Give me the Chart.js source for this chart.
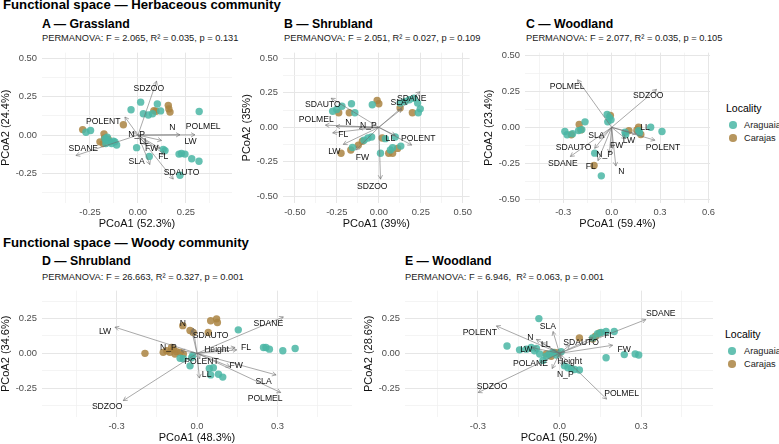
<!DOCTYPE html>
<html>
<head>
<meta charset="utf-8">
<script src="https://cdn.jsdelivr.net/npm/chart.js@4.4.1/dist/chart.umd.min.js"></script>
<style>
  body { margin:0; width:779px; height:444px; background:#fff; position:relative; overflow:hidden;
         font-family:"Liberation Sans", Arial, sans-serif; }
  .t { position:absolute; white-space:pre; color:#000; }
  .main { font-size:13.2px; font-weight:bold; line-height:16px; }
  .sub { font-size:12.3px; font-weight:bold; line-height:14px; }
  .perm { font-size:9.3px; line-height:12px; color:#1a1a1a; }
  .leg { font-size:10.5px; line-height:12px; }
  .key { font-size:9.2px; line-height:12px; color:#1a1a1a; }
  .dot { position:absolute; width:7.5px; height:7.5px; border-radius:50%; }
  canvas { position:absolute; }
</style>
</head>
<body>

<div class="t main" style="left:3px;top:-3px">Functional space — Herbaceous community</div>
<div class="t sub" style="left:42px;top:17px">A — Grassland</div>
<div class="t perm" style="left:42px;top:32px">PERMANOVA: F = 2.065, R² = 0.035, p = 0.131</div>
<div class="t sub" style="left:284px;top:17px">B — Shrubland</div>
<div class="t perm" style="left:284px;top:32px">PERMANOVA: F = 2.051, R² = 0.027, p = 0.109</div>
<div class="t sub" style="left:526px;top:17px">C — Woodland</div>
<div class="t perm" style="left:526px;top:32px">PERMANOVA: F = 2.077, R² = 0.035, p = 0.105</div>

<div class="t main" style="left:3px;top:235px">Functional space — Woody community</div>
<div class="t sub" style="left:42px;top:253.5px">D — Shrubland</div>
<div class="t perm" style="left:42px;top:270.5px">PERMANOVA: F = 26.663, R² = 0.327, p = 0.001</div>
<div class="t sub" style="left:405px;top:253.5px">E — Woodland</div>
<div class="t perm" style="left:405px;top:270.5px">PERMANOVA: F = 6.946,  R² = 0.063, p = 0.001</div>

<div class="t leg" style="left:726px;top:102px">Locality</div>
<div class="dot" style="left:729px;top:121px;background:rgba(74,182,164,0.85)"></div>
<div class="t key" style="left:744px;top:119px">Araguaia</div>
<div class="dot" style="left:729px;top:134px;background:rgba(170,132,66,0.85)"></div>
<div class="t key" style="left:744px;top:132px">Carajas</div>

<div class="t leg" style="left:725px;top:328px">Locality</div>
<div class="dot" style="left:728px;top:347px;background:rgba(74,182,164,0.85)"></div>
<div class="t key" style="left:744px;top:345px">Araguaia</div>
<div class="dot" style="left:728px;top:360px;background:rgba(170,132,66,0.85)"></div>
<div class="t key" style="left:744px;top:358px">Carajas</div>

<script>
// ---- A: herbaceous, grassland ----
const A_araguaia = [[0.014,0.215],[0.101,0.203],[0.319,0.154],[-0.036,0.165],[0.028,0.139],[0.054,0.131],[0.076,0.139],[0.118,0.158],[-0.271,0.019],[-0.247,0.030],[-0.172,-0.023],[-0.163,-0.034],[-0.146,-0.044],[-0.120,-0.044],[-0.111,-0.065],[-0.007,-0.082],[0.059,-0.139],[0.132,-0.093],[0.141,-0.101],[0.214,-0.124],[0.227,-0.120],[0.245,-0.124],[0.280,-0.154],[0.318,-0.171],[0.219,-0.262],[-0.167,-0.055],[-0.128,-0.040],[-0.160,-0.013],[-0.137,-0.055]];
const A_carajas = [[-0.288,0.036],[-0.177,0.008],[-0.076,0.068],[0.083,0.160],[0.094,0.156],[0.158,0.194],[0.161,0.171],[0.167,0.150],[-0.198,-0.044],[-0.181,-0.055],[-0.155,-0.027],[-0.174,-0.019]];
const A_traits = ['SDZOO','POLENT','N_P','N','POLMEL','LW','LL','FW','FL','SLA','SDAUTO','SDANE'];
const A_tips = [[0.097,0.352],[-0.068,0.118],[-0.030,0.020],[0.219,0.002],[0.297,0.002],[0.123,-0.035],[0.045,-0.065],[0.115,-0.087],[0.141,-0.129],[0.062,-0.192],[0.184,-0.287],[-0.323,-0.133]];
const A_labels = [[0.057,0.304],[-0.181,0.086],[-0.007,0.000],[0.179,0.049],[0.340,0.057],[0.274,-0.044],[0.031,-0.044],[0.071,-0.087],[0.132,-0.139],[-0.007,-0.171],[0.227,-0.245],[-0.285,-0.087]];

// ---- B: herbaceous, shrubland ----
const B_araguaia = [[-0.275,0.117],[-0.251,0.129],[-0.220,0.153],[-0.163,0.171],[-0.143,0.106],[-0.039,0.164],[0.127,0.176],[0.157,0.188],[0.182,0.200],[0.210,0.211],[0.231,0.176],[0.247,0.134],[0.235,0.106],[-0.157,-0.146],[-0.088,-0.094],[-0.065,-0.077],[-0.043,-0.070],[0.010,-0.188],[0.039,-0.082],[0.069,-0.164],[0.082,-0.148],[0.098,-0.070],[0.131,-0.136]];
const B_carajas = [[-0.239,0.106],[-0.176,0.106],[-0.010,0.195],[0.000,0.171],[0.127,0.141],[0.200,0.106],[-0.225,-0.188],[-0.167,-0.164],[-0.122,-0.129],[-0.098,-0.101],[0.020,-0.077],[0.059,-0.188],[0.082,-0.188],[0.112,-0.153]];
const B_traits = ['SDANE','SLA','SDAUTO','POLMEL','N','N_P','FL','LW','FW','LL','POLENT','SDZOO'];
const B_tips = [[0.245,0.258],[0.137,0.134],[-0.284,0.211],[-0.318,0.016],[-0.255,0.007],[-0.118,-0.007],[-0.275,-0.040],[-0.212,-0.124],[-0.137,-0.164],[0.098,-0.059],[0.196,-0.129],[0.010,-0.376]];
const B_labels = [[0.196,0.211],[0.118,0.176],[-0.333,0.164],[-0.373,0.059],[-0.182,0.035],[-0.062,0.016],[-0.212,-0.054],[-0.265,-0.176],[-0.098,-0.223],[0.069,-0.082],[0.235,-0.082],[-0.039,-0.430]];

// ---- C: herbaceous, woodland ----
const C_araguaia = [[-0.290,-0.029],[-0.276,-0.052],[-0.242,-0.045],[-0.205,-0.023],[-0.185,-0.016],[-0.165,0.038],[-0.105,-0.180],[-0.064,-0.338],[-0.028,0.090],[-0.014,0.068],[-0.004,0.052],[-0.024,0.038],[0.083,-0.034],[0.087,-0.050],[0.167,-0.023],[0.173,-0.038],[0.242,0.000],[0.312,-0.029]];
const C_carajas = [[-0.250,-0.052],[-0.201,0.020],[-0.191,-0.018],[-0.109,-0.266],[-0.008,0.083],[0.107,-0.023],[0.157,-0.018],[0.181,-0.050],[0.167,0.000]];
const C_traits = ['POLMEL','SDZOO','LL','LW','POLENT','FW','SLA','SDAUTO','SDANE','N_P','FL','N'];
const C_tips = [[-0.211,0.331],[0.278,0.264],[0.153,-0.045],[0.087,-0.079],[0.268,-0.090],[0.006,-0.146],[-0.074,-0.079],[-0.105,-0.146],[-0.256,-0.203],[-0.014,-0.180],[-0.085,-0.232],[0.026,-0.270]];
const C_labels = [[-0.276,0.286],[0.227,0.218],[0.207,0.000],[0.107,-0.090],[0.318,-0.142],[0.032,-0.124],[-0.095,-0.056],[-0.236,-0.142],[-0.302,-0.252],[-0.044,-0.191],[-0.129,-0.275],[0.060,-0.311]];

// ---- D: woody, shrubland ----
const D_araguaia = [[-0.063,-0.035],[-0.051,-0.039],[-0.020,-0.032],[-0.016,-0.016],[-0.026,-0.090],[0.046,-0.109],[0.061,-0.104],[0.051,-0.155],[0.080,-0.150],[0.096,-0.171],[0.154,0.169],[0.248,0.042],[0.257,0.042],[0.270,0.030],[0.320,0.019],[0.366,0.035]];
const D_carajas = [[-0.194,0.000],[-0.053,0.199],[-0.026,0.164],[-0.014,0.150],[0.042,0.150],[0.051,0.234],[0.073,0.248],[0.076,0.222],[-0.113,0.019],[-0.101,0.007],[-0.088,0.030],[-0.076,0.012],[-0.063,0.007],[-0.082,-0.005],[-0.051,-0.005],[-0.126,0.007],[-0.095,0.042]];
const D_traits = ['LW','SDANE','N','SDAUTO','N_P','Height','FL','POLENT','LL','FW','SLA','POLMEL','SDZOO'];
const D_tips = [[-0.306,0.188],[0.322,0.262],[-0.014,0.181],[-0.020,0.164],[-0.060,0.020],[0.148,0.025],[0.142,0.042],[0.011,-0.039],[0.009,-0.178],[0.123,-0.097],[0.295,-0.155],[0.312,-0.282],[-0.275,-0.340]];
const D_labels = [[-0.343,0.153],[0.266,0.211],[-0.053,0.211],[0.051,0.130],[-0.107,0.042],[0.073,0.030],[0.183,0.042],[0.017,-0.063],[0.036,-0.155],[0.146,-0.090],[0.248,-0.201],[0.254,-0.324],[-0.335,-0.380]];

// ---- E: woody, woodland ----
const E_araguaia = [[-0.076,0.250],[-0.193,0.053],[-0.147,0.025],[-0.122,0.030],[-0.104,0.042],[-0.092,0.019],[-0.085,0.035],[-0.073,-0.005],[-0.061,-0.051],[-0.049,-0.021],[-0.037,-0.005],[-0.024,0.007],[-0.012,-0.012],[0.006,0.012],[0.018,-0.090],[0.031,-0.104],[0.043,-0.109],[0.055,-0.116],[0.073,-0.120],[0.122,0.111],[0.140,0.141],[0.153,0.150],[0.171,0.157],[0.201,0.157],[0.171,-0.032],[0.238,-0.009],[0.278,-0.005],[0.291,-0.012]];
const E_carajas = [[-0.049,-0.005],[-0.031,-0.021],[-0.018,0.007],[-0.006,0.002],[0.073,0.111],[0.122,0.104],[0.132,0.123],[0.147,0.146]];
const E_traits = ['SDANE','POLENT','SLA','N','LL','LW','SDAUTO','FL','FW','POLANE','Height','N_P','POLMEL','SDZOO'];
const E_tips = [[0.317,0.243],[-0.232,0.197],[-0.024,0.157],[-0.085,0.100],[-0.067,0.076],[-0.100,0.040],[0.037,0.058],[0.122,0.111],[0.195,0.058],[-0.027,-0.109],[0.006,-0.039],[0.010,-0.086],[0.173,-0.329],[-0.299,-0.282]];
const E_labels = [[0.372,0.285],[-0.293,0.146],[-0.043,0.192],[-0.107,0.111],[-0.051,0.065],[-0.122,0.030],[0.079,0.076],[0.183,0.127],[0.238,0.030],[-0.107,-0.074],[0.037,-0.058],[0.021,-0.155],[0.228,-0.289],[-0.248,-0.241]];

// tick values and their printed labels
const ticks025 = [-0.25, 0, 0.25];
const ticks025Lab = ['-0.25', '0.00', '0.25'];
const ticks05 = [-0.5, -0.25, 0, 0.25, 0.5];
const ticks05Lab = ['-0.50', '-0.25', '0.00', '0.25', '0.50'];
const ticksA_y = [-0.25, 0, 0.25, 0.5];
const ticksA_yLab = ['-0.25', '0.00', '0.25', '0.50'];
const ticks03 = [-0.3, 0, 0.3];
const ticks03Lab = ['-0.3', '0.0', '0.3'];
const ticksC_x = [-0.3, 0, 0.3, 0.6];
const ticksC_xLab = ['-0.3', '0.0', '0.3', '0.6'];

const TEAL = 'rgba(74,182,164,0.85)';
const TAN = 'rgba(170,132,66,0.85)';
const FONT = '"Liberation Sans", Arial, sans-serif';

// major ticks plus ggplot-style minor lines half way between
function withMinor(major, lo, hi) {
  const step = major[1] - major[0];
  const out = major.slice();
  for (let v = major[0] - step / 2; v > lo; v -= step) out.push(v);
  for (let v = major[0] + step / 2; v < hi; v += step) out.push(v);
  return out.sort((a, b) => a - b);
}

function vectorLayer(names, tips, labels) {
  return {
    id: 'vectors',
    afterDatasetsDraw(chart) {
      const ctx = chart.ctx;
      const xs = chart.scales.x, ys = chart.scales.y;
      const ox = xs.getPixelForValue(0), oy = ys.getPixelForValue(0);
      ctx.save();
      ctx.strokeStyle = '#6e6e6e';
      ctx.lineWidth = 0.6;
      tips.forEach(([vx, vy]) => {
        const ex = xs.getPixelForValue(vx), ey = ys.getPixelForValue(vy);
        const a = Math.atan2(ey - oy, ex - ox), h = 4.5;
        ctx.beginPath();
        ctx.moveTo(ox, oy);
        ctx.lineTo(ex, ey);
        ctx.moveTo(ex - h * Math.cos(a - 0.5), ey - h * Math.sin(a - 0.5));
        ctx.lineTo(ex, ey);
        ctx.lineTo(ex - h * Math.cos(a + 0.5), ey - h * Math.sin(a + 0.5));
        ctx.stroke();
      });
      ctx.fillStyle = '#111';
      ctx.font = '8.6px ' + FONT;
      ctx.textAlign = 'center';
      ctx.textBaseline = 'middle';
      labels.forEach(([lx, ly], i) => {
        ctx.fillText(names[i], xs.getPixelForValue(lx), ys.getPixelForValue(ly));
      });
      ctx.restore();
    }
  };
}

function axis(range, major, majorLab, title, isX) {
  const all = withMinor(major, range[0], range[1]);
  const isMajor = v => major.some(m => Math.abs(m - v) < 1e-9);
  return {
    type: 'linear',
    min: range[0],
    max: range[1],
    bounds: 'data',
    afterBuildTicks: s => { s.ticks = all.map(v => ({ value: v })); },
    afterFit: s => { if (isX) s.height = 26; else s.width = 42; },
    ticks: {
      autoSkip: false,
      maxRotation: 0,
      padding: isX ? 4 : 5,
      color: '#4d4d4d',
      font: { family: FONT, size: 9.4 },
      callback: v => {
        const i = major.findIndex(m => Math.abs(m - v) < 1e-9);
        return i < 0 ? '' : majorLab[i];
      }
    },
    grid: {
      drawTicks: false,
      color: c => (c.tick && isMajor(c.tick.value)) ? '#e6e6e6' : '#f1f1f1',
      lineWidth: c => (c.tick && isMajor(c.tick.value)) ? 1 : 0.8
    },
    border: { display: false },
    title: { display: true, text: title, color: '#111', font: { family: FONT, size: 11, lineHeight: 1 }, padding: 0 }
  };
}

// box = plot panel [left, top, right, bottom] on the page
function makePanel(box, xr, yr, xt, xtl, yt, ytl, xTitle, yTitle, ara, car, names, tips, labels) {
  const [L, T, R, B] = box;
  const cv = document.createElement('canvas');
  const w = R - L + 46, h = B - T + 32;
  cv.width = w; cv.height = h;
  cv.style.left = (L - 42) + 'px';
  cv.style.top = (T - 6) + 'px';
  cv.style.width = w + 'px';
  cv.style.height = h + 'px';
  document.body.appendChild(cv);
  new Chart(cv, {
    type: 'scatter',
    data: {
      datasets: [
        { label: 'Araguaia', data: ara.map(p => ({ x: p[0], y: p[1] })), backgroundColor: TEAL, pointRadius: 3.7, pointBorderWidth: 0, borderWidth: 0 },
        { label: 'Carajas', data: car.map(p => ({ x: p[0], y: p[1] })), backgroundColor: TAN, pointRadius: 3.7, pointBorderWidth: 0, borderWidth: 0 }
      ]
    },
    options: {
      responsive: false,
      animation: false,
      events: [],
      layout: { padding: { left: 0, top: 6, right: 4, bottom: 0 } },
      plugins: { legend: { display: false }, tooltip: { enabled: false } },
      scales: {
        x: axis(xr, xt, xtl, xTitle, true),
        y: axis(yr, yt, ytl, yTitle, false)
      }
    },
    plugins: [vectorLayer(names, tips, labels)]
  });
}

makePanel([42, 48, 232, 203], [-0.5, 0.49], [-0.443, 0.538], ticks025, ticks025Lab, ticksA_y, ticksA_yLab,
  'PCoA1 (52.3%)', 'PCoA2 (24.4%)', A_araguaia, A_carajas, A_traits, A_tips, A_labels);
makePanel([283, 48, 472, 203], [-0.571, 0.541], [-0.549, 0.542], ticks05, ticks05Lab, ticks05, ticks05Lab,
  'PCoA1 (39%)', 'PCoA2 (35%)', B_araguaia, B_carajas, B_traits, B_tips, B_labels);
makePanel([525, 48, 715, 203], [-0.537, 0.61], [-0.527, 0.52], ticksC_x, ticksC_xLab, ticks05, ticks05Lab,
  'PCoA1 (59.4%)', 'PCoA2 (23.4%)', C_araguaia, C_carajas, C_traits, C_tips, C_labels);
makePanel([42, 286, 352, 417], [-0.578, 0.578], [-0.458, 0.451], ticks03, ticks03Lab, ticks025, ticks025Lab,
  'PCoA1 (48.3%)', 'PCoA2 (34.6%)', D_araguaia, D_carajas, D_traits, D_tips, D_labels);
makePanel([405, 286, 713, 417], [-0.568, 0.564], [-0.458, 0.451], ticks03, ticks03Lab, ticks025, ticks025Lab,
  'PCoA1 (50.2%)', 'PCoA2 (28.6%)', E_araguaia, E_carajas, E_traits, E_tips, E_labels);
</script>
</body>
</html>
